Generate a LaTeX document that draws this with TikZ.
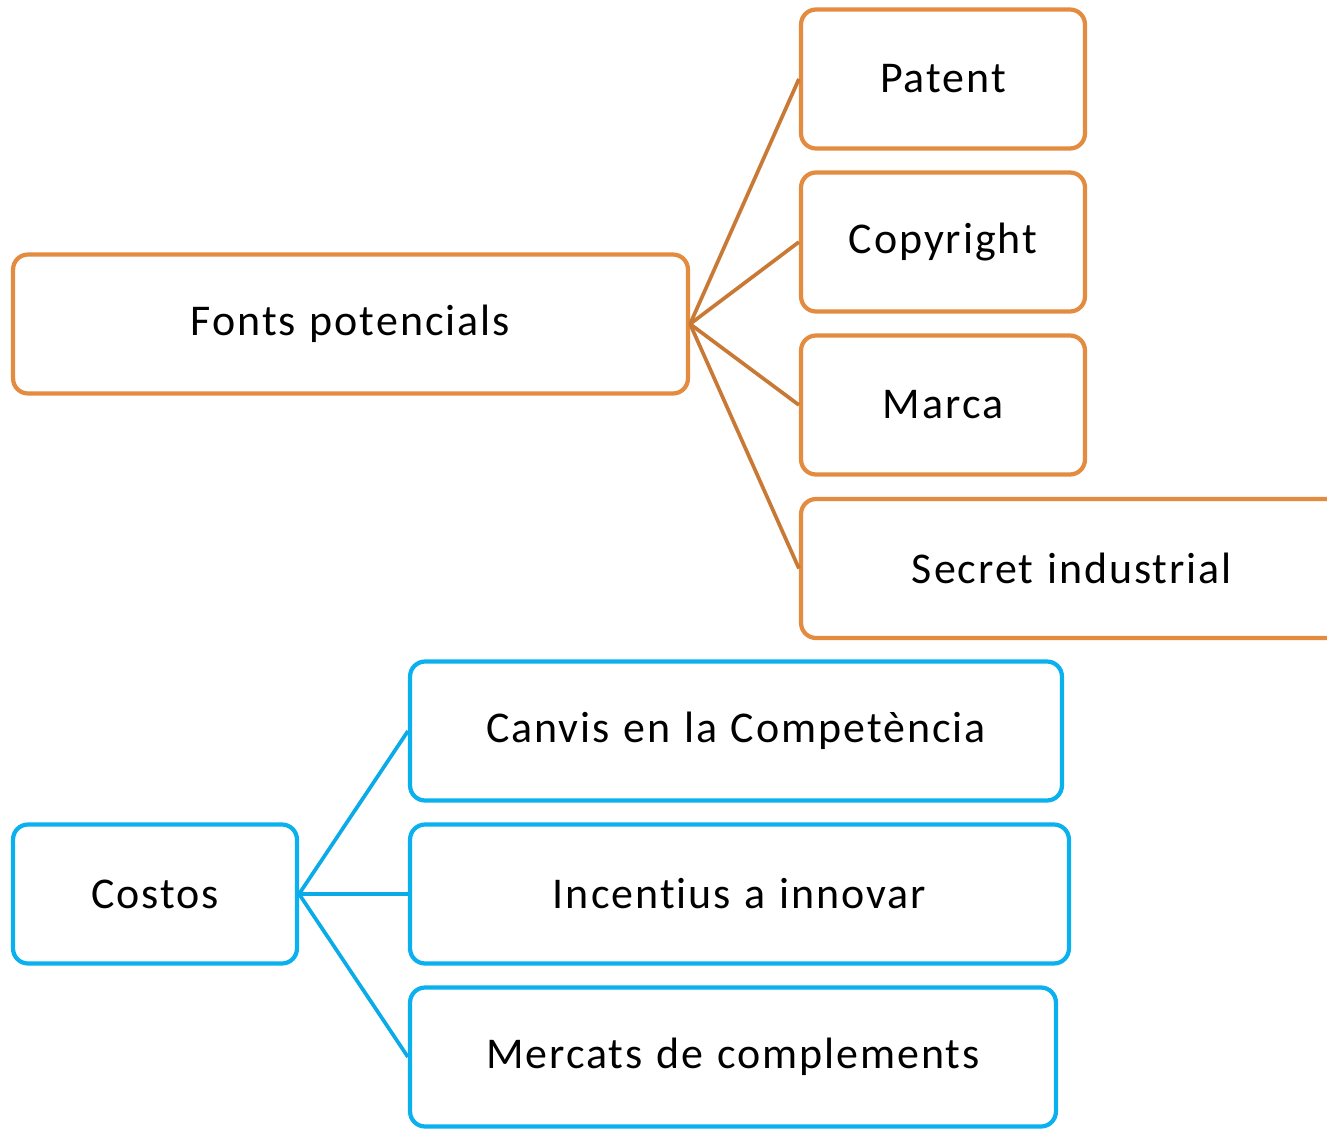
\documentclass[tikz,border=0pt]{standalone}
\usepackage{fontspec}
\setmainfont[LetterSpace=4.5,WordSpace=1.15,Ligatures=NoCommon]{Carlito}
\usepackage{xcolor}
\usetikzlibrary{positioning}
\definecolor{orangebox}{HTML}{E38B3F}
\definecolor{orangeline}{HTML}{C87935}
\definecolor{bluebox}{HTML}{0BB0EE}
\definecolor{blueline}{HTML}{0BABE8}

\begin{document}
\begin{tikzpicture}[
x=0.02cm,y=-0.02cm,
box/.style={draw,rounded corners=0.3cm,line width=2.4pt,minimum height=2.78cm,inner sep=0pt,align=center,font=\fontsize{25}{29}\selectfont},
obox/.style={box,draw=orangebox},
bbox/.style={box,draw=bluebox},
oline/.style={draw=orangeline,line width=2.1pt},
bline/.style={draw=blueline,line width=2.1pt}
]
\useasboundingbox (0,0) rectangle (1327,1128);
\begin{scope}
\clip (0,0) rectangle (1327,1128);
% top group
\node[obox,minimum width=13.5cm] (fonts) at (350.5,324) {Fonts potencials};
\node[obox,minimum width=5.68cm] (patent) at (943,79) {Patent};
\node[obox,minimum width=5.68cm] (copyright) at (943,242) {Copyright};
\node[obox,minimum width=5.68cm] (marca) at (943,405) {Marca};
\node[obox,minimum width=10.84cm] (secret) at (1072,568.5) {Secret industrial};
\draw[oline] (fonts.east)--(patent.west);
\draw[oline] (fonts.east)--(copyright.west);
\draw[oline] (fonts.east)--(marca.west);
\draw[oline] (fonts.east)--(secret.west);
% bottom group
\node[bbox,minimum width=5.68cm] (costos) at (155,894) {Costos};
\node[bbox,minimum width=13.04cm] (canvis) at (736,731) {Canvis en la Competència};
\node[bbox,minimum width=13.18cm] (incentius) at (739.5,894) {Incentius a innovar};
\node[bbox,minimum width=12.92cm] (mercats) at (733,1057) {Mercats de complements};
\draw[bline] (costos.east)--(canvis.west);
\draw[bline] (costos.east)--(incentius.west);
\draw[bline] (costos.east)--(mercats.west);
\end{scope}
\end{tikzpicture}
\end{document}
